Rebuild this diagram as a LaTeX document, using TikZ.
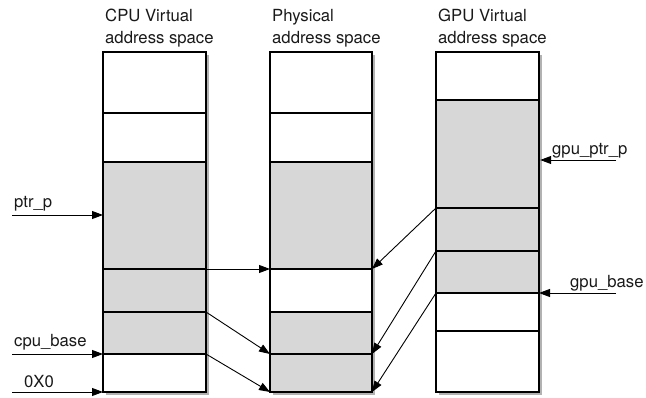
\documentclass[tikz,border=0pt]{standalone}
\usepackage{fontspec}
\setmainfont{TeX Gyre Heros}
\usetikzlibrary{arrows.meta,shadows}
\definecolor{segGray}{HTML}{D6D7D6}
\begin{document}
\begin{tikzpicture}[x=1pt,y=-1pt,
  frame/.style={draw=black, line width=1.2pt, fill=white, inner sep=0pt, anchor=north west,
    drop shadow={shadow xshift=2pt, shadow yshift=-2.5pt, opacity=0.3, fill=black}},
  seg/.style={draw=black, line width=1.2pt, inner sep=0pt, outer sep=0pt, anchor=north west},
  wseg/.style={seg, fill=white},
  gseg/.style={seg, fill=segGray},
  conn/.style={-{Triangle[length=11pt,width=8pt]}, line width=0.9pt},
  lbl/.style={font=\fontsize{16.7}{19}\selectfont, anchor=base west, inner sep=0pt, text=black!90}]
\useasboundingbox (0,0) rectangle (646,398);
% titles
\node[lbl] (t1a) at (105,22) {CPU Virtual};
\node[lbl] (t1b) at (105,44) {address space};
\node[lbl] (t2a) at (272,22) {Physical};
\node[lbl] (t2b) at (272,44) {address space};
\node[lbl] (t3a) at (438,22) {GPU Virtual};
\node[lbl] (t3b) at (438,44) {address space};
% column frames (shadow)
\node[frame, minimum width=103pt, minimum height=340pt] (cpu) at (103,52) {};
\node[frame, minimum width=102pt, minimum height=340pt] (phys) at (270,52) {};
\node[frame, minimum width=103pt, minimum height=340pt] (gpu) at (436,52) {};
% CPU segments
\node[wseg, minimum width=103pt, minimum height=61pt]  (cA) at (103,52) {};
\node[wseg, minimum width=103pt, minimum height=49pt]  (cB) at (103,113) {};
\node[gseg, minimum width=103pt, minimum height=107pt] (cC) at (103,162) {};
\node[gseg, minimum width=103pt, minimum height=43pt]  (cD) at (103,269) {};
\node[gseg, minimum width=103pt, minimum height=42pt]  (cE) at (103,312) {};
\node[wseg, minimum width=103pt, minimum height=38pt]  (cF) at (103,354) {};
% Physical segments
\node[wseg, minimum width=102pt, minimum height=61pt]  (pA) at (270,52) {};
\node[wseg, minimum width=102pt, minimum height=49pt]  (pB) at (270,113) {};
\node[gseg, minimum width=102pt, minimum height=107pt] (pC) at (270,162) {};
\node[wseg, minimum width=102pt, minimum height=43pt]  (pD) at (270,269) {};
\node[gseg, minimum width=102pt, minimum height=42pt]  (pE) at (270,312) {};
\node[gseg, minimum width=102pt, minimum height=38pt]  (pF) at (270,354) {};
% GPU segments
\node[wseg, minimum width=103pt, minimum height=48pt]  (gA) at (436,52) {};
\node[gseg, minimum width=103pt, minimum height=108pt] (gB) at (436,100) {};
\node[gseg, minimum width=103pt, minimum height=43pt]  (gC) at (436,208) {};
\node[gseg, minimum width=103pt, minimum height=42pt]  (gD) at (436,251) {};
\node[wseg, minimum width=103pt, minimum height=38pt]  (gE) at (436,293) {};
\node[wseg, minimum width=103pt, minimum height=61pt]  (gF) at (436,331) {};
% pointer labels
\node[lbl] (lptr) at (14,208) {ptr\_p};
\node[lbl] (lcpub) at (14,347) {cpu\_base};
\node[lbl] (lzero) at (24,388) {0X0};
\node[lbl] (lgptr) at (552,155) {gpu\_ptr\_p};
\node[lbl] (lgpub) at (570,288) {gpu\_base};
\coordinate (sptr) at (12,215);
\coordinate (scpub) at (12,354);
\coordinate (szero) at (12,392);
\coordinate (sgptr) at (616,160);
\coordinate (sgpub) at (616,293);
\draw[conn] (sptr) -- (sptr -| cpu.west);
\draw[conn] (scpub) -- (cF.north west);
\draw[conn] (szero) -- (cF.south west);
\draw[conn] (sgptr) -- (sgptr -| gpu.east);
\draw[conn] (sgpub) -- (gE.north east);
% mappings
\draw[conn] (cD.north east) -- (pD.north west);
\draw[conn] (cE.north east) -- (pF.north west);
\draw[conn] (cF.north east) -- (pF.south west);
\draw[conn] (gC.north west) -- (pD.north east);
\draw[conn] (gD.north west) -- (pF.north east);
\draw[conn] (gE.north west) -- (pF.south east);
\end{tikzpicture}
\end{document}
